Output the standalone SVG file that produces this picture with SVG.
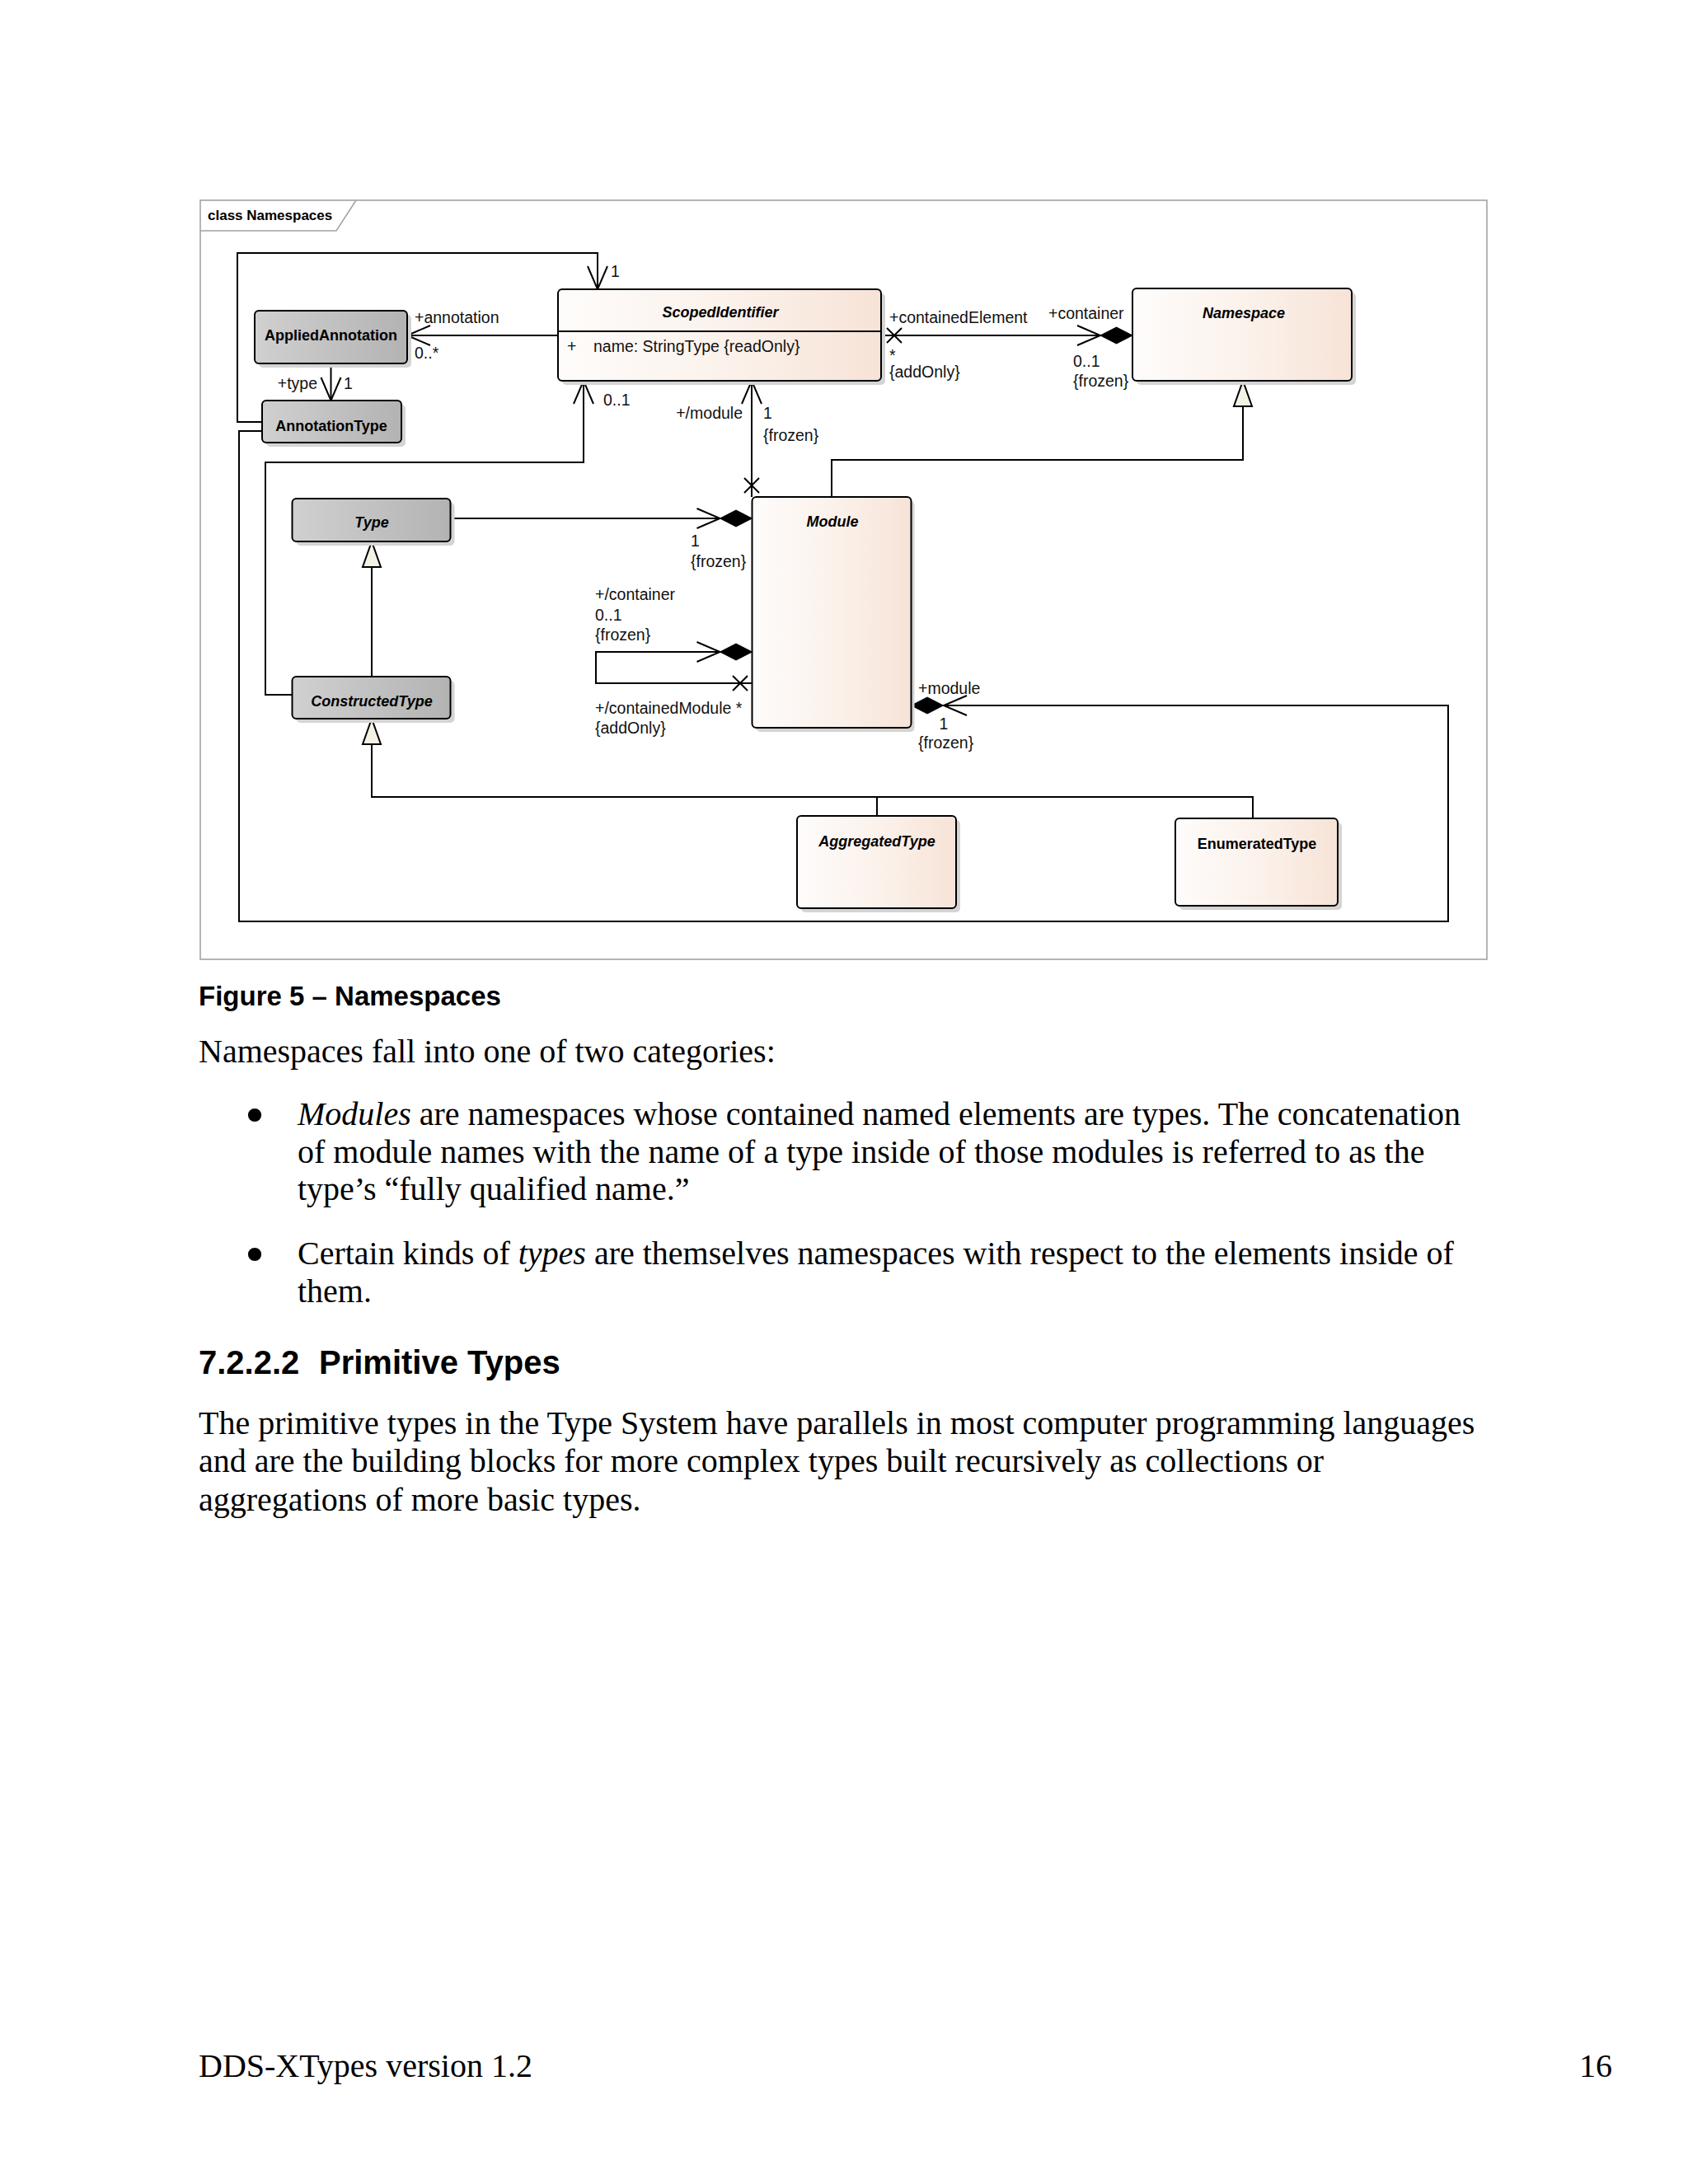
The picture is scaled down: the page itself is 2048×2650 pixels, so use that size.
<svg xmlns="http://www.w3.org/2000/svg" xmlns:xlink="http://www.w3.org/1999/xlink" width="2048" height="2650" viewBox="0 0 2048 2650">
<defs>
<linearGradient id="gp" x1="0" y1="0" x2="1" y2="0">
<stop offset="0" stop-color="#fefcfb"/><stop offset="0.55" stop-color="#fbf1ea"/><stop offset="1" stop-color="#f7e3d7"/>
</linearGradient>
<linearGradient id="gg" x1="0" y1="0" x2="1" y2="0">
<stop offset="0" stop-color="#d0d0d0"/><stop offset="1" stop-color="#b3b3b3"/>
</linearGradient>
<path id="arr" d="M-28,-12 L0,0 L-28,12" fill="none" stroke="#000" stroke-width="2"/>
<path id="dia" d="M0,0 L-19.5,-10 L-39,0 L-19.5,10 Z" fill="#000" stroke="#000" stroke-width="1"/>
<path id="xm" d="M-9,-9 L9,9 M-9,9 L9,-9" fill="none" stroke="#000" stroke-width="2"/>
<path id="tri" d="M0,0 L-11,31 L11,31 Z" fill="#f4f2e4" stroke="#000" stroke-width="2"/>
</defs>
<style>
.frame{fill:#fff;stroke:#a3a3a3;stroke-width:1.6}
.box{stroke:#000;stroke-width:2}
.peach{fill:url(#gp)}
.gray{fill:url(#gg)}
.sh{fill:#d4d4d4}
.ln{fill:none;stroke:#000;stroke-width:2}
.lbl{font-family:"Liberation Sans",Arial,sans-serif;font-size:19.5px;fill:#111}
.ttl{font-family:"Liberation Sans",Arial,sans-serif;font-size:18px;font-weight:bold;text-anchor:middle;fill:#000}
.it{font-style:italic}
.body{font-family:"Liberation Serif","Times New Roman",serif;font-size:40px;fill:#000}
.bul{font-family:"DejaVu Sans",sans-serif;font-size:56px;fill:#000;text-anchor:middle}
.hd{font-family:"Liberation Sans",Arial,sans-serif;font-weight:bold;fill:#000}
</style>
<rect x="0" y="0" width="2048" height="2650" fill="#fff"/>

<g id="frame">
<rect class="frame" x="243" y="243" width="1561" height="921"/>
<path d="M243,280 L408,280 L432,243" fill="none" stroke="#a3a3a3" stroke-width="1.6"/>
<text x="252" y="267" class="hd" font-size="17">class Namespaces</text>
</g>

<g id="connectors">
<polyline class="ln" points="318,512 288,512 288,307 725,307 725,351"/>
<use href="#arr" transform="translate(725,351) rotate(90)"/>
<text class="lbl" x="741" y="336">1</text>
<line class="ln" x1="677" y1="407" x2="494" y2="407"/>
<use href="#arr" transform="translate(494,407) rotate(180)"/>
<text class="lbl" x="503" y="392">+annotation</text>
<text class="lbl" x="503" y="435">0..*</text>
<line class="ln" x1="401.5" y1="441" x2="401.5" y2="486"/>
<use href="#arr" transform="translate(401.5,486) rotate(90)"/>
<text class="lbl" x="385" y="472" text-anchor="end">+type</text>
<text class="lbl" x="417" y="472">1</text>
<polyline class="ln" points="354.5,843 322,843 322,561 708,561 708,462"/>
<use href="#arr" transform="translate(708,462) rotate(-90)"/>
<text class="lbl" x="732" y="492">0..1</text>
<polyline class="ln" points="318,523 290,523 290,1118 1757,1118 1757,856 1145,856"/>
<use href="#dia" transform="translate(1105.5,856) rotate(180)"/>
<use href="#arr" transform="translate(1145,856) rotate(180)"/>
<text class="lbl" x="1114" y="842">+module</text>
<text class="lbl" x="1145" y="885" text-anchor="middle">1</text>
<text class="lbl" x="1114" y="908">{frozen}</text>
<line class="ln" x1="1069" y1="407" x2="1374" y2="407"/>
<use href="#xm" transform="translate(1085,407)"/>
<use href="#dia" transform="translate(1374,407)"/>
<use href="#arr" transform="translate(1335,407)"/>
<text class="lbl" x="1079" y="392">+containedElement</text>
<text class="lbl" x="1079" y="438">*</text>
<text class="lbl" x="1079" y="458">{addOnly}</text>
<text class="lbl" x="1272" y="387">+container</text>
<text class="lbl" x="1302" y="445">0..1</text>
<text class="lbl" x="1302" y="469">{frozen}</text>
<polyline class="ln" points="1009,603 1009,558 1508,558 1508,493"/>
<use href="#tri" transform="translate(1508,462)"/>
<line class="ln" x1="912" y1="462" x2="912" y2="603"/>
<use href="#xm" transform="translate(912,589)"/>
<use href="#arr" transform="translate(912,462) rotate(-90)"/>
<text class="lbl" x="901" y="508" text-anchor="end">+/module</text>
<text class="lbl" x="926" y="508">1</text>
<text class="lbl" x="926" y="535">{frozen}</text>
<line class="ln" x1="547" y1="629" x2="912.5" y2="629"/>
<use href="#dia" transform="translate(912.5,629)"/>
<use href="#arr" transform="translate(873.5,629)"/>
<text class="lbl" x="838" y="663">1</text>
<text class="lbl" x="838" y="688">{frozen}</text>
<polyline class="ln" points="873.5,791 723,791 723,829 912.5,829"/>
<use href="#dia" transform="translate(912.5,791)"/>
<use href="#arr" transform="translate(873.5,791)"/>
<use href="#xm" transform="translate(898,829)"/>
<text class="lbl" x="722" y="728">+/container</text>
<text class="lbl" x="722" y="753">0..1</text>
<text class="lbl" x="722" y="777">{frozen}</text>
<text class="lbl" x="722" y="866">+/containedModule *</text>
<text class="lbl" x="722" y="890">{addOnly}</text>
<line class="ln" x1="451" y1="821" x2="451" y2="688"/>
<use href="#tri" transform="translate(451,657)"/>
<polyline class="ln" points="1064,990 1064,967"/>
<polyline class="ln" points="1520,993 1520,967 451,967 451,903"/>
<use href="#tri" transform="translate(451,872)"/>
</g>

<g id="ScopedIdentifier">
<rect class="sh" x="682" y="356" width="392" height="111" rx="5"/>
<rect class="box peach" x="677" y="351" width="392" height="111" rx="5"/>
<line x1="677" y1="402" x2="1069" y2="402" stroke="#000" stroke-width="2"/>
<text class="ttl it" x="874" y="385">ScopedIdentifier</text>
<text class="lbl" x="688" y="427" fill="#333">+</text>
<text class="lbl" x="720" y="427" fill="#333">name: StringType {readOnly}</text>
</g>

<g id="Namespace">
<rect class="sh" x="1379" y="355" width="266" height="112" rx="5"/>
<rect class="box peach" x="1374" y="350" width="266" height="112" rx="5"/>
<text class="ttl it" x="1509" y="386">Namespace</text>
</g>

<g id="AppliedAnnotation">
<rect class="sh" x="314" y="382" width="185" height="64" rx="5"/>
<rect class="box gray" x="309" y="377" width="185" height="64" rx="5"/>
<text class="ttl" x="401.5" y="413">AppliedAnnotation</text>
</g>

<g id="AnnotationType">
<rect class="sh" x="323" y="491" width="169" height="51" rx="5"/>
<rect class="box gray" x="318" y="486" width="169" height="51" rx="5"/>
<text class="ttl" x="402" y="523">AnnotationType</text>
</g>

<g id="Type">
<rect class="sh" x="359.5" y="610" width="192" height="52" rx="5"/>
<rect class="box gray" x="354.5" y="605" width="192" height="52" rx="5"/>
<text class="ttl it" x="451" y="640">Type</text>
</g>

<g id="ConstructedType">
<rect class="sh" x="359.5" y="826" width="192" height="51" rx="5"/>
<rect class="box gray" x="354.5" y="821" width="192" height="51" rx="5"/>
<text class="ttl it" x="451" y="857">ConstructedType</text>
</g>

<g id="Module">
<rect class="sh" x="917.5" y="608" width="192" height="280" rx="5"/>
<rect class="box peach" x="912.5" y="603" width="193" height="280" rx="5"/>
<text class="ttl it" x="1010" y="639">Module</text>
</g>

<g id="AggregatedType">
<rect class="sh" x="972" y="995" width="193" height="112" rx="5"/>
<rect class="box peach" x="967" y="990" width="193" height="112" rx="5"/>
<text class="ttl it" x="1064" y="1027">AggregatedType</text>
</g>

<g id="EnumeratedType">
<rect class="sh" x="1431" y="998" width="197" height="106" rx="5"/>
<rect class="box peach" x="1426" y="993" width="197" height="106" rx="5"/>
<text class="ttl" x="1525" y="1030">EnumeratedType</text>
</g>

<g id="text">
<text class="hd" x="241" y="1220" font-size="33">Figure 5 – Namespaces</text>
<text class="body" x="241" y="1289">Namespaces fall into one of two categories:</text>
<text class="bul" x="309" y="1374">•</text>
<text class="body" x="361" y="1365"><tspan font-style="italic">Modules</tspan> are namespaces whose contained named elements are types. The concatenation</text>
<text class="body" x="361" y="1411">of module names with the name of a type inside of those modules is referred to as the</text>
<text class="body" x="361" y="1456">type’s “fully qualified name.”</text>
<text class="bul" x="309" y="1543">•</text>
<text class="body" x="361" y="1534">Certain kinds of <tspan font-style="italic">types</tspan> are themselves namespaces with respect to the elements inside of</text>
<text class="body" x="361" y="1580">them.</text>
<text class="hd" x="241" y="1667" font-size="40">7.2.2.2</text>
<text class="hd" x="387" y="1667" font-size="40">Primitive Types</text>
<text class="body" x="241" y="1740">The primitive types in the Type System have parallels in most computer programming languages</text>
<text class="body" x="241" y="1786">and are the building blocks for more complex types built recursively as collections or</text>
<text class="body" x="241" y="1833">aggregations of more basic types.</text>
<text class="body" x="241" y="2520">DDS-XTypes version 1.2</text>
<text class="body" x="1956" y="2520" text-anchor="end">16</text>
</g>
</svg>
